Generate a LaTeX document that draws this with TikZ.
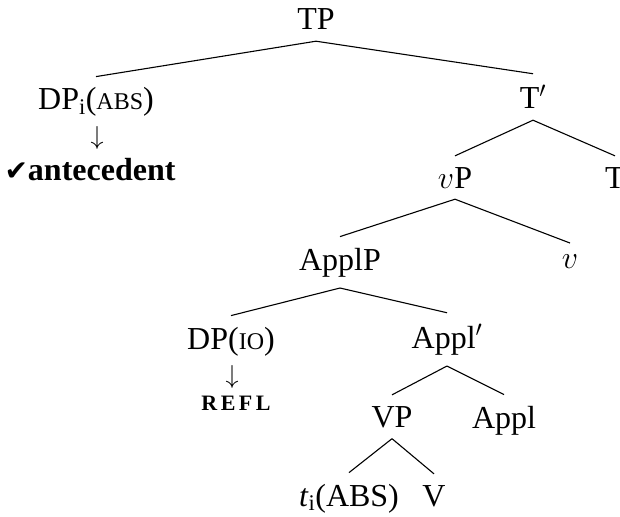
\RequirePackage{fix-cm}
\documentclass[tikz,border=0pt]{standalone}
\usepackage{fontspec}
\setmainfont{Liberation Serif}
\newfontfamily\symfont{DejaVu Sans}
\newcommand\smc[1]{{\fontsize{24}{28}\selectfont #1}}
\begin{document}
\begin{tikzpicture}[x=1pt,y=-1pt,
  every node/.style={font=\fontsize{32}{38}\selectfont, inner xsep=0pt, inner ysep=11pt, anchor=base},
  leaf/.style={inner ysep=2pt},
  branch/.style={line width=1.1pt},
  arrowtxt/.style={font=\fontsize{26}{30}\selectfont}]
\useasboundingbox (0,0) rectangle (620,516);
\node (tp) at (316,30) {TP};
\node (dpi) at (96,110) {DP\textsubscript{i}(\smc{ABS})};
\node[arrowtxt] (arr1) at (97,144) {$\downarrow$};
\node (ante) at (90,180) {{\symfont\fontsize{28}{32}\selectfont ✔}\textbf{antecedent}};
\node (tbar) at (533,109) {T$'$};
\node (vp) at (455,188) {$v$P};
\node (tnode) at (615,188) {T};
\node (applp) at (340,270) {ApplP};
\node (vhead) at (570,268) {$v$};
\node (dpio) at (231,349) {DP(\smc{IO})};
\node[arrowtxt] (arr2) at (232,383) {$\downarrow$};
\node (refl) at (236,410) {\fontsize{22}{26}\selectfont\bfseries R\kern3.5pt E\kern3.5pt F\kern3.5pt L};
\node (applbar) at (447,348) {Appl$'$};
\node (vpp) at (392,427) {VP};
\node (appl) at (504,428) {Appl};
\node[leaf] (ti) at (349,506) {\textit{t}\textsubscript{i}(ABS)};
\node[leaf] (vv) at (434,506) {V};
\draw[branch] (tp.south) -- (dpi.north);
\draw[branch] (tp.south) -- (tbar.north);
\draw[branch] (tbar.south) -- (vp.north);
\draw[branch] (tbar.south) -- (tnode.north);
\draw[branch] (vp.south) -- (applp.north);
\draw[branch] (vp.south) -- (vhead.north);
\draw[branch] (applp.south) -- (dpio.north);
\draw[branch] (applp.south) -- (applbar.north);
\draw[branch] (applbar.south) -- (vpp.north);
\draw[branch] (applbar.south) -- (appl.north);
\draw[branch] (vpp.south) -- ([yshift=9pt]ti.north);
\draw[branch] (vpp.south) -- ([yshift=9pt]vv.north);
\end{tikzpicture}
\end{document}
